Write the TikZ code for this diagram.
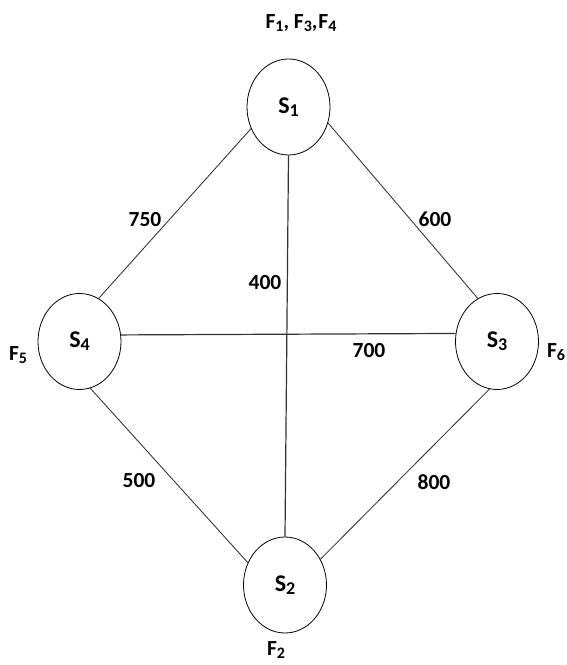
\documentclass[tikz,border=0pt]{standalone}
\usepackage{fontspec}
\setmainfont{Carlito}
\usetikzlibrary{shapes.geometric}
\newcommand{\lowsub}[1]{\raisebox{-2.5pt}{\fontsize{16}{16}\selectfont #1}}
\newcommand{\bigsub}[1]{\raisebox{-3pt}{\fontsize{18}{18}\selectfont #1}}
\tikzset{
  site/.style={ellipse, draw=black, line width=0.8pt, minimum width=83pt, minimum height=96pt, inner sep=0pt, font=\fontsize{24}{24}\selectfont\bfseries},
  lbl/.style={font=\fontsize{21.5}{21.5}\selectfont\bfseries, inner sep=0pt},
  flbl/.style={font=\fontsize{21.5}{21.5}\selectfont\bfseries, inner sep=0pt},
  edge/.style={draw=black!85, line width=0.8pt},
  cross/.style={draw=black!80, line width=1.2pt}
}
\begin{document}
\begin{tikzpicture}[x=1pt,y=1pt]
\useasboundingbox (0,0) rectangle (566,665);
\node[site] (S1) at (288.5,558) {S\bigsub{1}};
\node[site] (S4) at (79.5,323.5) {S\bigsub{4}};
\node[site] (S3) at (497,323.5) {S\bigsub{3}};
\node[site] (S2) at (285,80) {S\bigsub{2}};

\draw[edge] (S1.210) -- (S4.66);
\draw[edge] (S1.338) -- (S3.114);
\draw[edge] (S4.283) -- (S2.149);
\draw[edge] (S3.261) -- (S2.36);
\draw[cross] (S1.south) -- (S2.north);
\draw[cross] (S4.9) -- (S3.169);

\node[flbl] (f134) at (301,642) {F\lowsub{1}, F\lowsub{3},\kern1pt F\lowsub{4}};
\node[flbl] (f5) at (18,310) {F\lowsub{5}};
\node[flbl] (f6) at (556,313) {F\lowsub{6}};
\node[flbl] (f2) at (276,15) {F\lowsub{2}};

\node[lbl] (l750) at (145,445) {750};
\node[lbl] (l400) at (265,382) {400};
\node[lbl] (l600) at (435,446) {600};
\node[lbl] (l700) at (369,314) {700};
\node[lbl] (l500) at (139,184) {500};
\node[lbl] (l800) at (434,183) {800};
\end{tikzpicture}
\end{document}
